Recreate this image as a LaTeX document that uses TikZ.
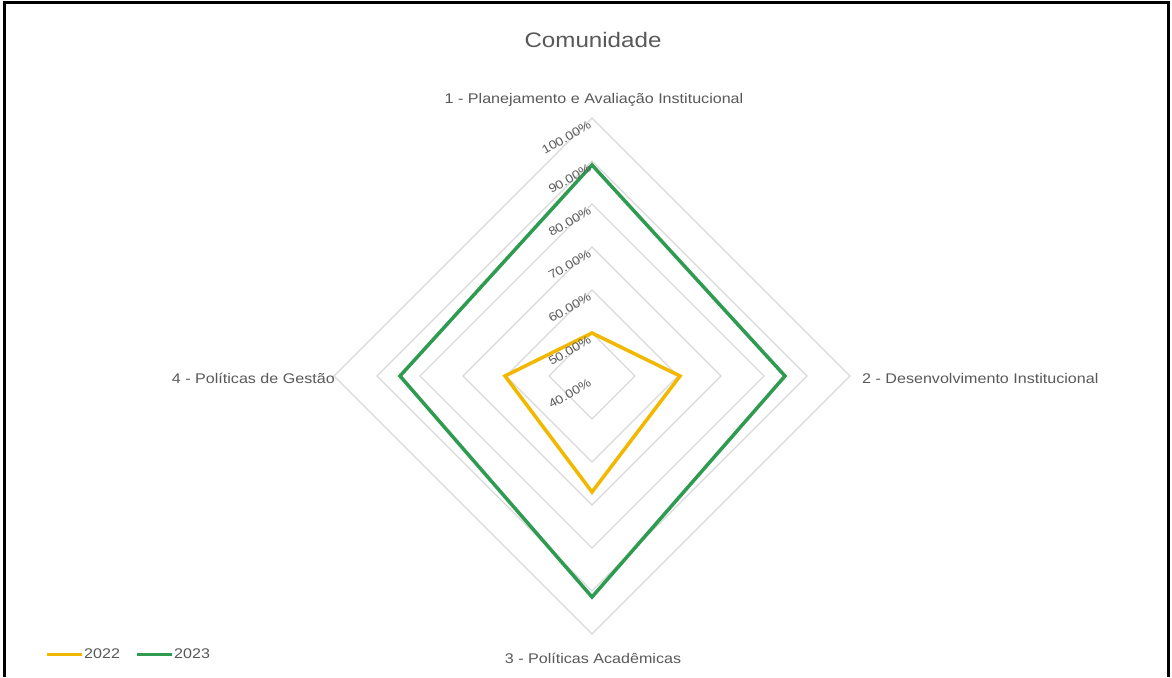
\documentclass[tikz,border=0pt]{standalone}
\usepackage{fontspec}
\setmainfont{Liberation Sans}[FakeStretch=1.15]
\definecolor{txt}{HTML}{595959}
\definecolor{gridc}{HTML}{D9D9D9}
\definecolor{ser22}{HTML}{F2B800}
\definecolor{ser23}{HTML}{2E9B50}
\tikzset{
  axislabel/.style={text=txt, font=\fontsize{14}{16}\selectfont, inner sep=0pt},
  ticklabel/.style={text=txt, font=\fontsize{12}{14}\selectfont, inner sep=0pt, rotate=30, anchor=north east},
  ring/.style={draw=gridc, line width=1.3pt},
  series/.style={line width=3.5pt, line join=miter},
}
\begin{document}
\begin{tikzpicture}[x=1pt,y=-1pt]
\useasboundingbox (0,0) rectangle (1172,677);
\fill[white] (0,0) rectangle (1172,677);
\draw[line width=3pt] (4,677) -- (4,3) -- (1168,3) -- (1168,677);
\coordinate (C) at (592,376);
% title
\node[text=txt, font=\fontsize{21}{24}\selectfont, inner sep=0pt] (title) at (593,40) {Comunidade};
% rings
\foreach \k in {1,...,6}{
  \pgfmathsetmacro{\r}{43*\k}
  \draw[ring] ([yshift=-\r pt]C) -- ([xshift=\r pt]C) -- ([yshift=\r pt]C) -- ([xshift=-\r pt]C) -- cycle;
}
% series
\draw[series, draw=ser22] (592,333) -- (680,376) -- (592,492) -- (505,376) -- cycle;
\draw[series, draw=ser23] (592,165) -- (785,376) -- (592,597) -- (400,376) -- cycle;
% tick labels
\foreach \v [count=\i from 0] in {40,50,60,70,80,90,100}{
  \pgfmathsetmacro{\yy}{376-43*\i+2}
  \node[ticklabel] (t\v) at (588,\yy) {\v.00\%};
}
% axis labels
\node[axislabel] (a1) at (594,100) {1 - Planejamento e Avaliação Institucional};
\node[axislabel, anchor=west] (a2) at (862,378) {2 - Desenvolvimento Institucional};
\node[axislabel] (a3) at (593,658) {3 - Políticas Acadêmicas};
\node[axislabel, anchor=east] (a4) at (335,378) {4 - Políticas de Gestão};
% legend
\coordinate (l1a) at (47,654);
\coordinate (l1b) at (82,654);
\coordinate (l2a) at (137,654);
\coordinate (l2b) at (172,654);
\draw[draw=ser22, line width=3pt] (l1a) -- (l1b);
\node[axislabel, anchor=west] (lg1) at (84,654) {2022};
\draw[draw=ser23, line width=3pt] (l2a) -- (l2b);
\node[axislabel, anchor=west] (lg2) at (174,654) {2023};
\end{tikzpicture}
\end{document}
